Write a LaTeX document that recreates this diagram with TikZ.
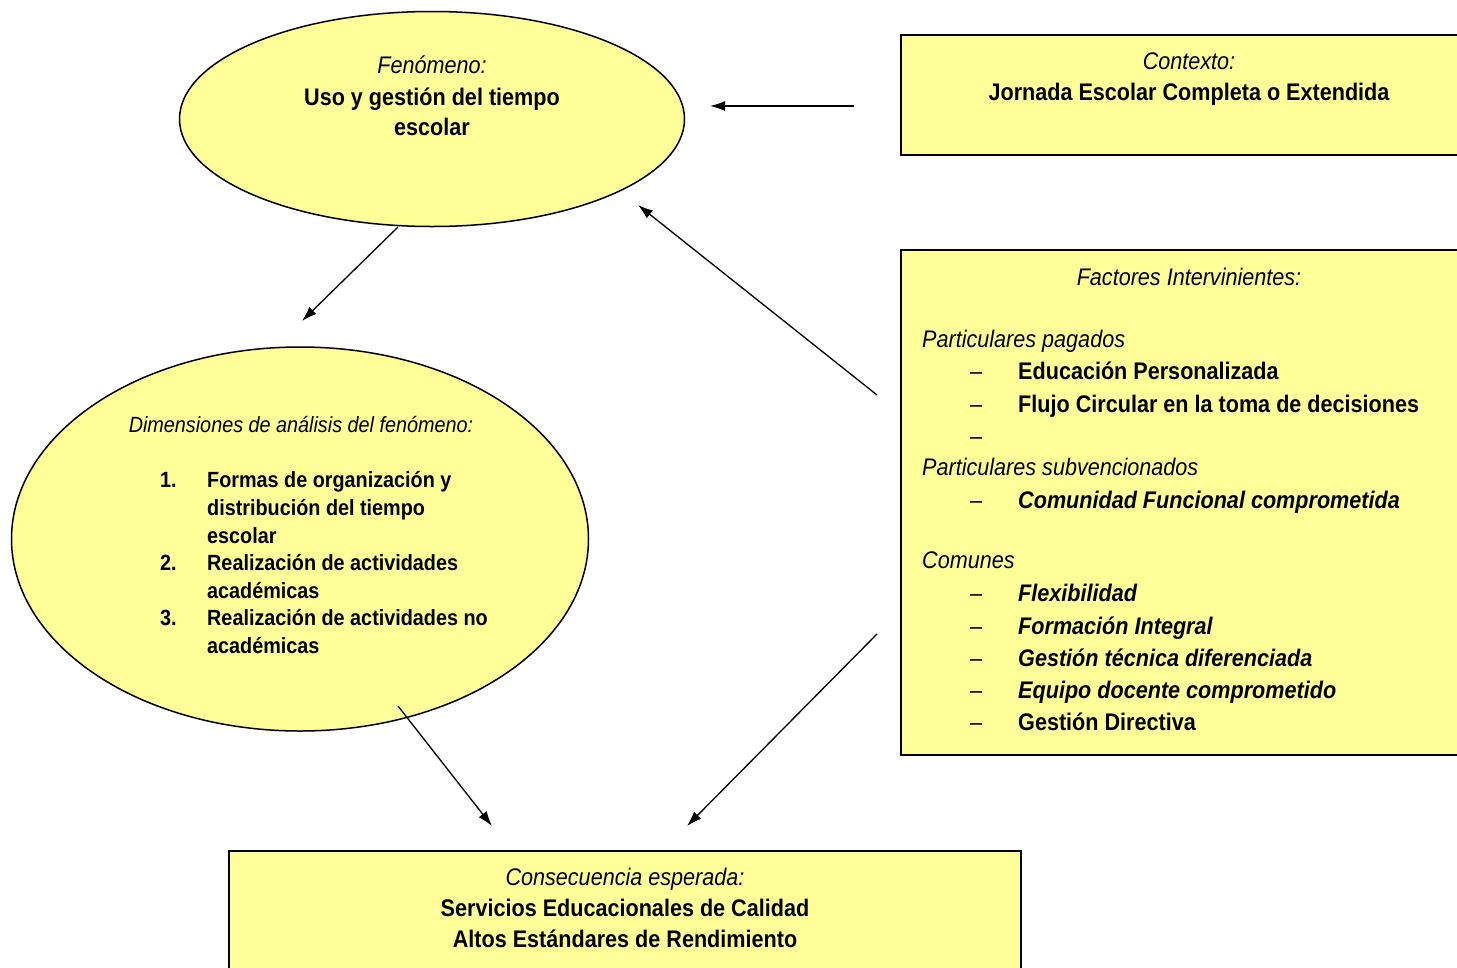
\documentclass[tikz,border=0pt]{standalone}
\usepackage{fontspec}
\setmainfont{Liberation Sans}[FakeStretch=0.9]
\usetikzlibrary{arrows.meta,shapes.geometric}
\definecolor{pale}{RGB}{255,255,153}
\begin{document}
\begin{tikzpicture}[x=1pt,y=-1pt,
  shp/.style={draw=black,line width=1.5pt,fill=pale,inner sep=0pt,outer sep=0pt},
  conn/.style={line width=1.3pt,-{Latex[length=15pt,width=10pt]}},
  t/.style={inner sep=0pt,font=\fontsize{24}{28}\selectfont},
  ts/.style={inner sep=0pt,font=\fontsize{22}{26}\selectfont}]
\useasboundingbox (0,0) rectangle (1457,967);
% shapes
\node[shp,ellipse,minimum width=505,minimum height=215] (fen) at (432,119) {};
\node[shp,ellipse,minimum width=577,minimum height=384] (dim) at (300,539) {};
\node[shp,rectangle,anchor=north west,minimum width=562,minimum height=120] (ctx) at (901,35) {};
\node[shp,rectangle,anchor=north west,minimum width=562,minimum height=505] (fac) at (901,250) {};
\node[shp,rectangle,anchor=north west,minimum width=792,minimum height=130] (cons) at (229,851) {};
% top ellipse text
\node[t,anchor=base] (fen1) at (432,73) {\itshape Fenómeno:};
\node[t,anchor=base] (fen2) at (432,105) {\bfseries Uso y gestión del tiempo};
\node[t,anchor=base] (fen3) at (432,135) {\bfseries escolar};
% context
\node[t,anchor=base] (ctx1) at (1189,69) {\itshape Contexto:};
\node[t,anchor=base] (ctx2) at (1189,100) {\bfseries Jornada Escolar Completa o Extendida};
% consequence
\node[t,anchor=base] (cons1) at (625,885) {\itshape Consecuencia esperada:};
\node[t,anchor=base] (cons2) at (625,916) {\bfseries Servicios Educacionales de Calidad};
\node[t,anchor=base] (cons3) at (625,947) {\bfseries Altos Estándares de Rendimiento};
% dimensions
\node[ts,anchor=base] (dim0) at (301,432) {\itshape Dimensiones de análisis del fenómeno:};
\node[ts,anchor=base west] (n1) at (160,487) {\bfseries 1.};
\node[ts,anchor=base west] (d1a) at (207,487) {\bfseries Formas de organización y};
\node[ts,anchor=base west] (d1b) at (207,515) {\bfseries distribución del tiempo};
\node[ts,anchor=base west] (d1c) at (207,543) {\bfseries escolar};
\node[ts,anchor=base west] (n2) at (160,570) {\bfseries 2.};
\node[ts,anchor=base west] (d2a) at (207,570) {\bfseries Realización de actividades};
\node[ts,anchor=base west] (d2b) at (207,598) {\bfseries académicas};
\node[ts,anchor=base west] (n3) at (160,625) {\bfseries 3.};
\node[ts,anchor=base west] (d3a) at (207,625) {\bfseries Realización de actividades no};
\node[ts,anchor=base west] (d3b) at (207,653) {\bfseries académicas};
% factors
\node[t,anchor=base] (f0) at (1189,285) {\itshape Factores Intervinientes:};
\node[t,anchor=base west] (fp) at (922,347) {\itshape Particulares pagados};
\node[t,anchor=base west] (dsh1) at (970,379) {–};
\node[t,anchor=base west] (fp1) at (1018,379) {\bfseries Educación Personalizada};
\node[t,anchor=base west] (dsh2) at (970,412) {–};
\node[t,anchor=base west] (fp2) at (1018,412) {\bfseries Flujo Circular en la toma de decisiones};
\node[t,anchor=base west] (dsh3) at (970,444) {–};
\node[t,anchor=base west] (fs) at (922,475) {\itshape Particulares subvencionados};
\node[t,anchor=base west] (dsh4) at (970,508) {–};
\node[t,anchor=base west] (fs1) at (1018,508) {\bfseries\itshape Comunidad Funcional comprometida};
\node[t,anchor=base west] (fc) at (922,568) {\itshape Comunes};
\node[t,anchor=base west] (dsh5) at (970,601) {–};
\node[t,anchor=base west] (fc1) at (1018,601) {\bfseries\itshape Flexibilidad};
\node[t,anchor=base west] (dsh6) at (970,634) {–};
\node[t,anchor=base west] (fc2) at (1018,634) {\bfseries\itshape Formación Integral};
\node[t,anchor=base west] (dsh7) at (970,666) {–};
\node[t,anchor=base west] (fc3) at (1018,666) {\bfseries\itshape Gestión técnica diferenciada};
\node[t,anchor=base west] (dsh8) at (970,698) {–};
\node[t,anchor=base west] (fc4) at (1018,698) {\bfseries\itshape Equipo docente comprometido};
\node[t,anchor=base west] (dsh9) at (970,730) {–};
\node[t,anchor=base west] (fc5) at (1018,730) {\bfseries Gestión Directiva};
% connector ends
\coordinate (a1s) at (854,106); \coordinate (a1e) at (710,106);
\coordinate (a2s) at (877,395); \coordinate (a2e) at (638,205);
\coordinate (a3s) at (398,227); \coordinate (a3e) at (302,321);
\coordinate (a4s) at (398,706); \coordinate (a4e) at (492,826);
\coordinate (a5s) at (877,634); \coordinate (a5e) at (687,826);
\draw[conn] (a1s) -- (a1e);
\draw[conn] (a2s) -- (a2e);
\draw[conn] (a3s) -- (a3e);
\draw[conn] (a4s) -- (a4e);
\draw[conn] (a5s) -- (a5e);
\end{tikzpicture}
\end{document}
